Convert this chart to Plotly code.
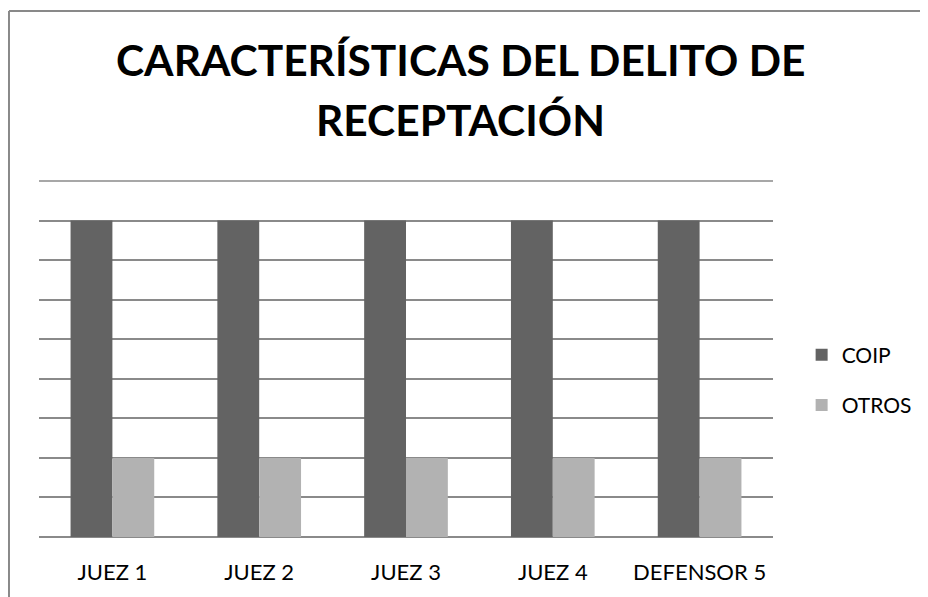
import plotly.graph_objects as go

categorias = ["JUEZ 1", "JUEZ 2", "JUEZ 3", "JUEZ 4", "DEFENSOR 5"]
coip = [4, 4, 4, 4, 4]
otros = [1, 1, 1, 1, 1]

fig = go.Figure()
fig.add_trace(go.Bar(x=categorias, y=coip, name="COIP", marker_color="#636363",
                     marker_line_width=0, legendgroup="a"))
fig.add_trace(go.Bar(x=categorias, y=otros, name="OTROS", marker_color="#b2b2b2",
                     marker_line_width=0, legendgroup="b"))

# page body adds an 8px offset; figure shrunk so no scrollbars appear
fig.update_layout(
    width=920, height=589,
    margin=dict(l=31, r=155, t=173, b=60, autoexpand=False),
    paper_bgcolor="white", plot_bgcolor="white",
    font=dict(family="Lato", color="black", size=21),
    barmode="group", bargap=0.43, bargroupgap=0,
    legend=dict(x=1.039, xanchor="left", y=0.441, yanchor="middle",
                tracegroupgap=20, font=dict(size=21)),
    annotations=[
        dict(text="<b>CARACTERÍSTICAS DEL DELITO DE</b>", xref="paper", yref="paper",
             x=0.574, y=1.340, xanchor="center", yanchor="middle", showarrow=False,
             font=dict(size=42.5)),
        dict(text="<b>RECEPTACIÓN</b>", xref="paper", yref="paper",
             x=0.574, y=1.172, xanchor="center", yanchor="middle", showarrow=False,
             font=dict(size=42.5)),
    ],
    shapes=[
        # chart frame: only left and top edges are visible in the picture
        dict(type="line", xref="paper", yref="paper",
             x0=-0.0409, x1=-0.0409, y0=-0.5, y1=1.4775,
             line=dict(color="#898989", width=2), layer="below"),
        dict(type="line", xref="paper", yref="paper",
             x0=-0.0409, x1=1.4, y0=1.4775, y1=1.4775,
             line=dict(color="#898989", width=2), layer="below"),
        # top gridline at the end of the range
        dict(type="line", xref="paper", yref="paper", x0=0, x1=1, y0=1, y1=1,
             line=dict(color="#8a8a8a", width=1.5), layer="below"),
    ],
)
fig.update_xaxes(showline=False, ticks="", ticklabelstandoff=20, tickfont=dict(size=22))
fig.update_yaxes(range=[0, 4.5], dtick=0.5, showticklabels=False,
                 gridcolor="#8a8a8a", gridwidth=1.5, zeroline=True,
                 zerolinecolor="#8a8a8a", zerolinewidth=1.5)

fig.write_html("out.html")
